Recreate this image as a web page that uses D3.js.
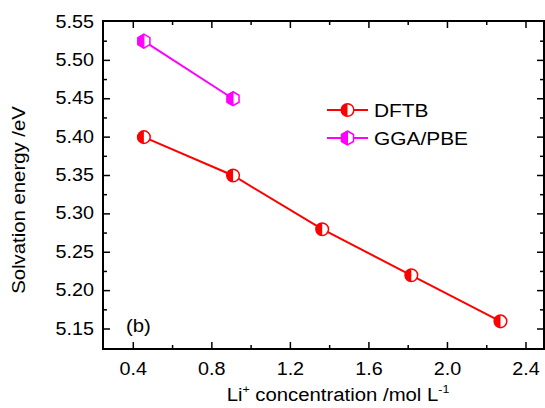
<!DOCTYPE html>
<html>
<head>
<meta charset="utf-8">
<script src="https://cdn.jsdelivr.net/npm/d3@7"></script>
<style>
  body { margin: 0; background: #fff; }
  svg text { font-family: Arial, "Liberation Sans", sans-serif; fill: #000; }
</style>
</head>
<body>
<svg id="chart" width="545" height="408"></svg>
<script>
// data
let dftbX = [0.454, 0.908, 1.362, 1.816, 2.27]
let dftbY = [5.40, 5.35, 5.28, 5.22, 5.16]
let pbeX = [0.454, 0.908]
let pbeY = [5.525, 5.45]
let xTicks = [0.4, 0.8, 1.2, 1.6, 2.0, 2.4]
let yTicks = [5.15, 5.20, 5.25, 5.30, 5.35, 5.40, 5.45, 5.50, 5.55]

let svg = d3.select("#chart")

// frame edges
let fLeft = 103, fRight = 544, fTop = 21, fBottom = 349
// the original font is a bit wider than Arial
let stretch = 1.13

let x = d3.scaleLinear().domain([0.4, 2.4]).range([133.3, 526])
let y = d3.scaleLinear().domain([5.15, 5.55]).range([329, 22])

let xMinor = d3.range(0.2, 2.6, 0.2).filter(v => x(v) > fLeft + 1 && x(v) < fRight - 1)
let yMinor = d3.range(5.125, 5.56, 0.025).filter(v => y(v) < fBottom - 1 && y(v) > fTop + 1.5)

// ticks (all inward)
let tickG = svg.append("g").attr("stroke", "#000").attr("stroke-width", 1.5)
xMinor.forEach(v => {
    let major = xTicks.some(t => Math.abs(t - v) < 1e-6)
    let len = major ? 7 : 4
    tickG.append("line").attr("x1", x(v)).attr("x2", x(v)).attr("y1", fBottom).attr("y2", fBottom - len)
    tickG.append("line").attr("x1", x(v)).attr("x2", x(v)).attr("y1", fTop).attr("y2", fTop + len)
})
yMinor.forEach(v => {
    let major = yTicks.some(t => Math.abs(t - v) < 1e-6)
    let len = major ? 7 : 4
    tickG.append("line").attr("y1", y(v)).attr("y2", y(v)).attr("x1", fLeft).attr("x2", fLeft + len)
    tickG.append("line").attr("y1", y(v)).attr("y2", y(v)).attr("x1", fRight).attr("x2", fRight - len)
})

svg.append("rect")
    .attr("x", fLeft).attr("y", fTop)
    .attr("width", fRight - fLeft).attr("height", fBottom - fTop)
    .attr("fill", "none").attr("stroke", "#000").attr("stroke-width", 2)

function label(tx, ty, anchor, size, rot) {
    return svg.append("text")
        .attr("transform", `translate(${tx},${ty})` + (rot ? ` rotate(${rot})` : "") + ` scale(${stretch},1)`)
        .attr("text-anchor", anchor).attr("font-size", size)
}

// tick labels
xTicks.forEach(d => label(x(d), 375, "middle", 17.5).text(d.toFixed(1)))
yTicks.forEach(d => label(94, y(d) + 5.5, "end", 17.5).text(d.toFixed(2)))

// axis titles
let xt = label(338, 401, "middle", 18)
xt.append("tspan").text("Li")
xt.append("tspan").attr("font-size", 11).attr("dy", -8).text("+")
xt.append("tspan").attr("dy", 8).text(" concentration /mol L")
xt.append("tspan").attr("font-size", 11).attr("dy", -8).text("-1")

label(25, 200, "middle", 18, -90).text("Solvation energy /eV")

label(126, 332, "start", 18).text("(b)")

// markers
function halfCircle(g, cx, cy, color) {
    let r = 6.3
    g.append("circle").attr("cx", cx).attr("cy", cy).attr("r", r)
        .attr("fill", "#fff").attr("stroke", color).attr("stroke-width", 1.5)
    g.append("path")
        .attr("d", `M${cx},${cy - r} A${r},${r} 0 0 0 ${cx},${cy + r} Z`)
        .attr("fill", color)
}
function halfHex(g, cx, cy, color) {
    let w = 6, h = 7
    let pts = [[cx, cy - h], [cx + w, cy - h / 2], [cx + w, cy + h / 2], [cx, cy + h], [cx - w, cy + h / 2], [cx - w, cy - h / 2]]
    g.append("polygon").attr("points", pts.map(p => p.join(",")).join(" "))
        .attr("fill", "#fff").attr("stroke", color).attr("stroke-width", 1.5)
    let half = [[cx, cy - h], [cx, cy + h], [cx - w, cy + h / 2], [cx - w, cy - h / 2]]
    g.append("polygon").attr("points", half.map(p => p.join(",")).join(" "))
        .attr("fill", color).attr("stroke", color).attr("stroke-width", 1)
}

let line = d3.line().x(d => x(d[0])).y(d => y(d[1]))

let red = "#ff0000", magenta = "#ff00ff"
let dftb = dftbX.map((v, i) => [v, dftbY[i]])
let pbe = pbeX.map((v, i) => [v, pbeY[i]])

svg.append("path").datum(dftb).attr("d", line)
    .attr("fill", "none").attr("stroke", red).attr("stroke-width", 2)
svg.append("path").datum(pbe).attr("d", line)
    .attr("fill", "none").attr("stroke", magenta).attr("stroke-width", 2)

let mg = svg.append("g")
dftb.forEach(d => halfCircle(mg, x(d[0]), y(d[1]), red))
pbe.forEach(d => halfHex(mg, x(d[0]), y(d[1]), magenta))

// legend
let lg = svg.append("g")
let legend = [["DFTB", red, halfCircle, 110], ["GGA/PBE", magenta, halfHex, 138]]
legend.forEach(([name, color, mark, ly]) => {
    lg.append("line").attr("x1", 327).attr("x2", 368).attr("y1", ly).attr("y2", ly)
        .attr("stroke", color).attr("stroke-width", 2)
    mark(lg, 347.5, ly, color)
    label(374, ly + 6.5, "start", 18.5).text(name)
})
</script>
</body>
</html>
